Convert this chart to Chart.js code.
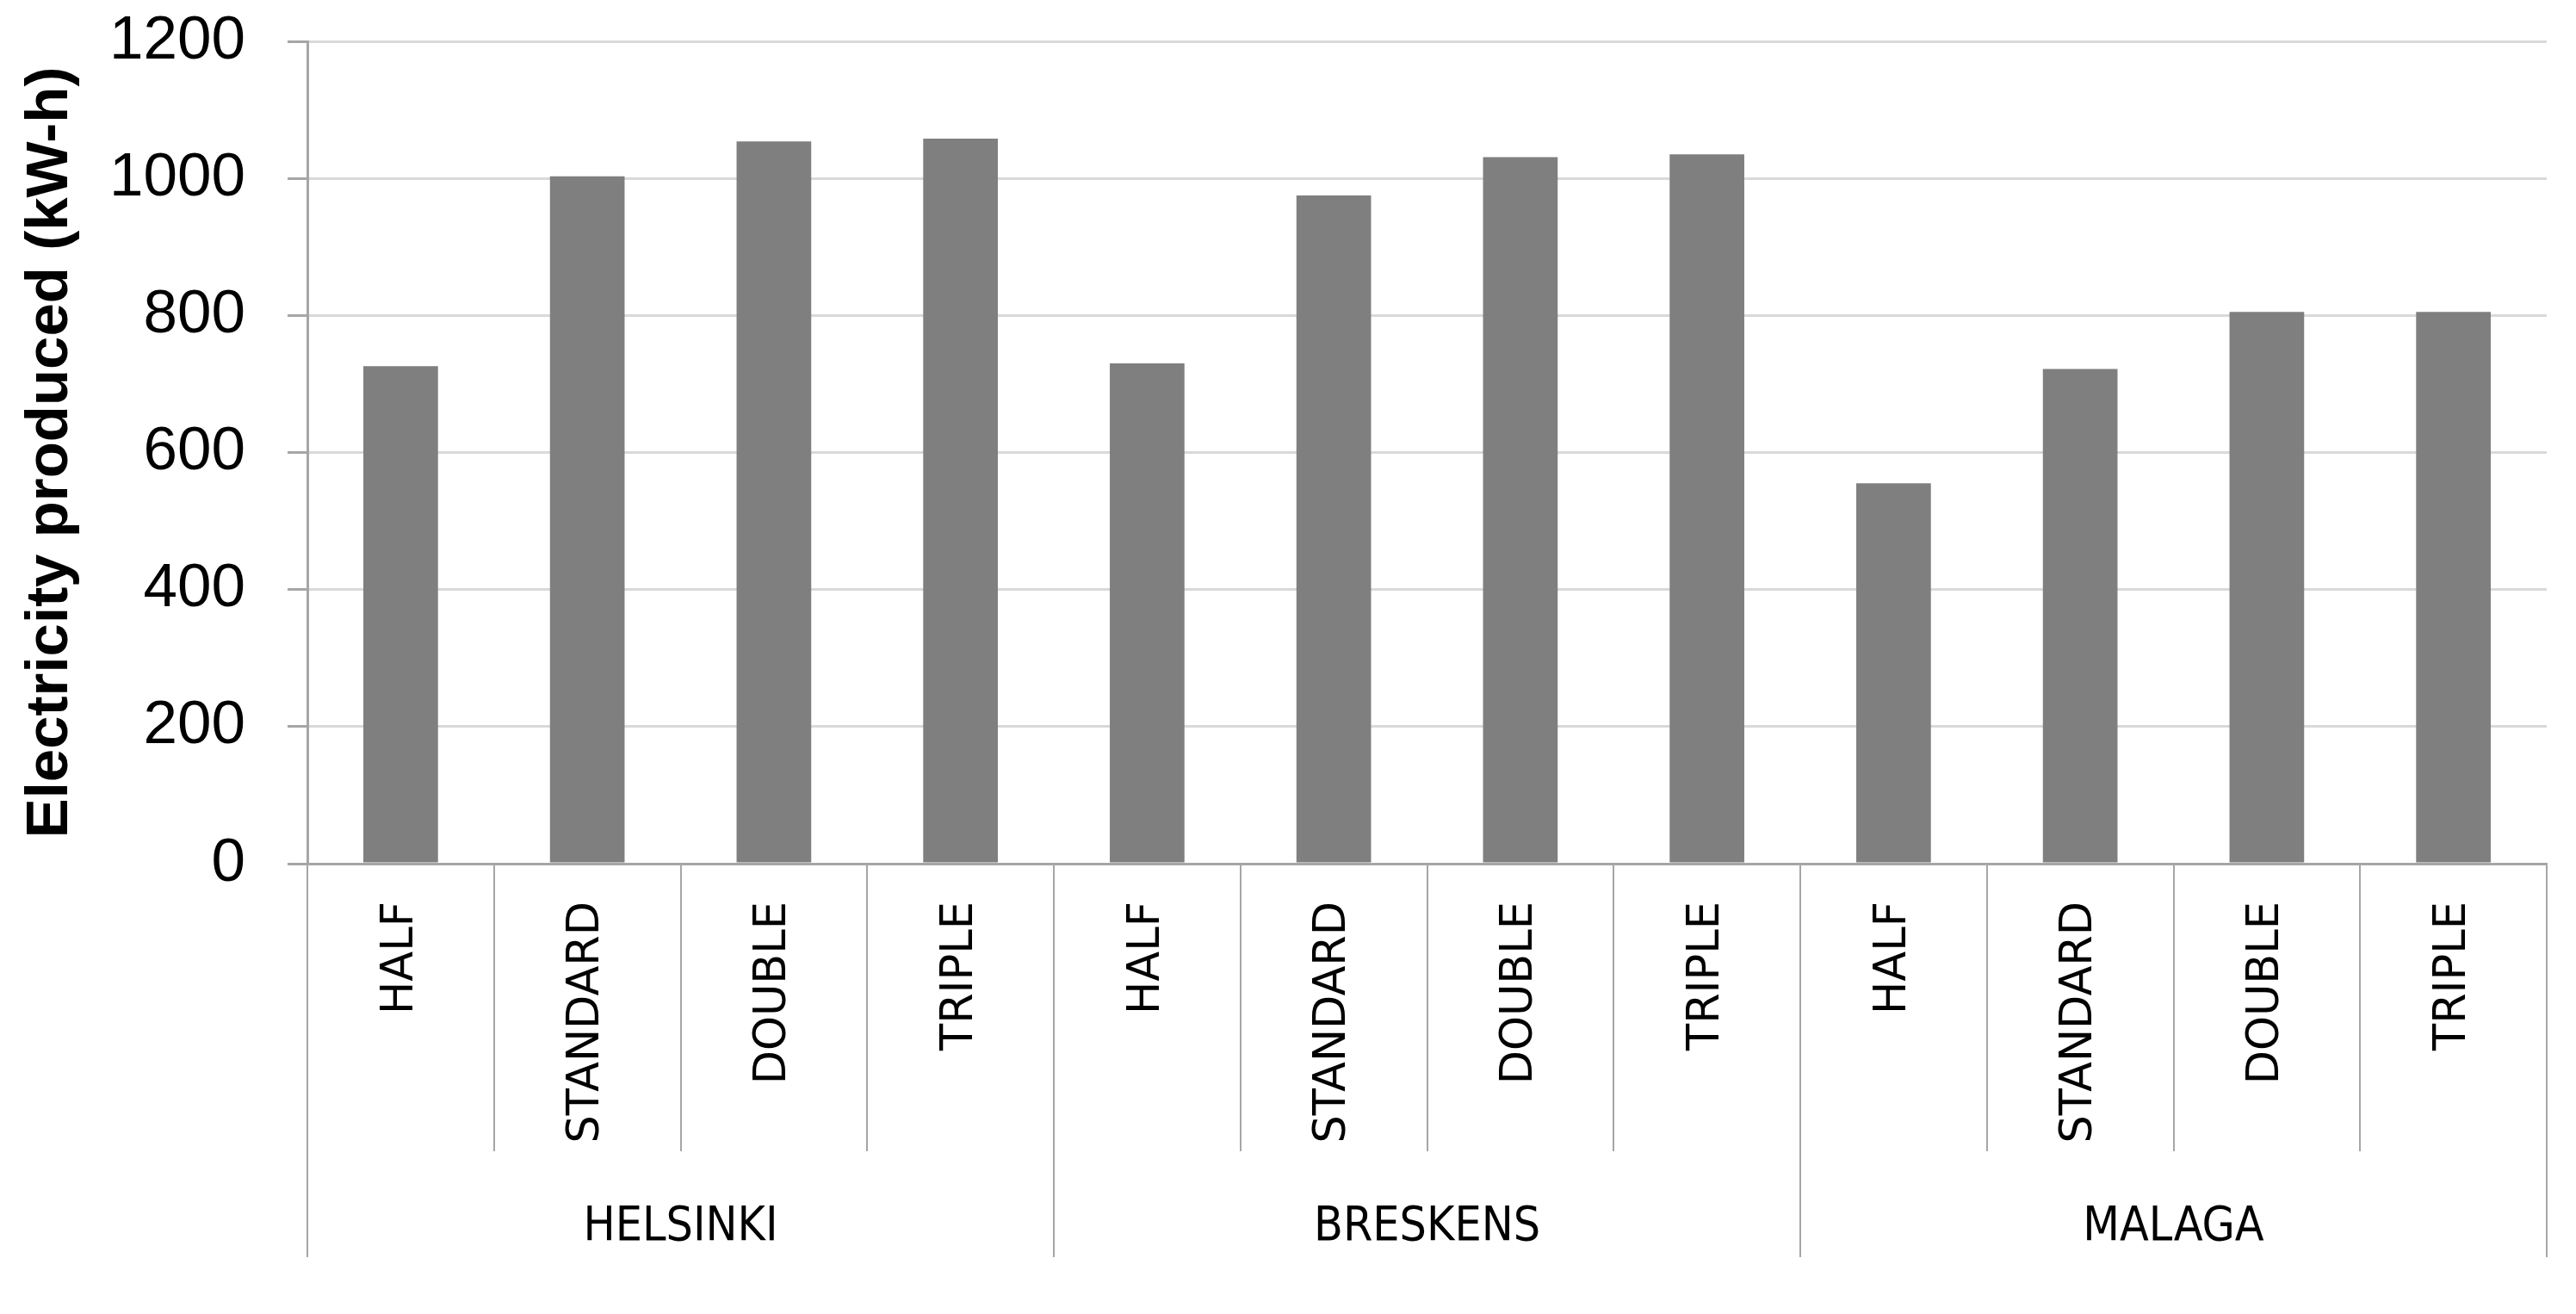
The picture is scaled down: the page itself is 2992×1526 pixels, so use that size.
<!DOCTYPE html>
<html>
<head>
<meta charset="utf-8">
<title>Electricity produced</title>
<script src="https://cdn.jsdelivr.net/npm/chart.js@4.4.1/dist/chart.umd.min.js"></script>
<style>
  html, body { margin: 0; padding: 0; background: #fff; }
  #wrap { width: 2992px; height: 1526px; }
</style>
</head>
<body>
<div id="wrap"><canvas id="chart"></canvas></div>
<script>
const cities = ["HELSINKI", "BRESKENS", "MALAGA"];
const glazing = [
  "HALF", "STANDARD", "DOUBLE", "TRIPLE",
  "HALF", "STANDARD", "DOUBLE", "TRIPLE",
  "HALF", "STANDARD", "DOUBLE", "TRIPLE"
];
const electricity = [726, 1003, 1054, 1058, 730, 975, 1031, 1035, 555, 722, 805, 805];
const yMin = 0;
const yMax = 1200;
const yStep = 200;

const axisGrey = "#a6a6a6";
const gridGrey = "#d9d9d9";
const barGrey = "#7f7f7f";

new Chart(document.getElementById("chart"), {
  type: "bar",
  data: {
    labels: glazing,
    datasets: [{
      label: "Electricity produced (kW-h)",
      data: electricity,
      backgroundColor: barGrey,
      borderWidth: 0,
      barPercentage: 0.4,
      categoryPercentage: 1
    }]
  },
  options: {
    responsive: true,
    maintainAspectRatio: false,
    animation: false,
    layout: {
      padding: { top: 0, right: 34, bottom: 66, left: 0 }
    },
    plugins: {
      legend: { display: false },
      tooltip: { enabled: false }
    },
    scales: {
      x: {
        position: "bottom",
        weight: 0,
        offset: true,
        grid: {
          offset: true,
          drawOnChartArea: false,
          tickLength: 334,
          color: axisGrey,
          lineWidth: 2
        },
        border: { color: axisGrey, width: 3 },
        ticks: {
          minRotation: 90,
          maxRotation: 90,
          autoSkip: false,
          padding: -290,
          color: "#000",
          font: { family: "DejaVu Sans", size: 51 }
        },
        afterFit(scale) {
          scale.height = 334;
        }
      },
      x2: {
        type: "category",
        labels: cities,
        position: "bottom",
        weight: 1,
        offset: true,
        grid: {
          offset: true,
          drawOnChartArea: false,
          tickLength: 123,
          color: axisGrey,
          lineWidth: 2
        },
        border: { display: false },
        ticks: {
          padding: -67,
          color: "#000",
          font: { family: "DejaVu Sans Condensed", size: 55 }
        },
        afterFit(scale) {
          scale.height = 123;
        }
      },
      y: {
        min: yMin,
        max: yMax,
        ticks: {
          stepSize: yStep,
          padding: 49,
          color: "#000",
          font: { family: "Liberation Sans", size: 71 },
          callback: (value) => String(value)
        },
        grid: {
          color: gridGrey,
          lineWidth: 3,
          tickLength: 23,
          tickColor: axisGrey
        },
        border: { color: axisGrey, width: 3 },
        title: {
          display: true,
          text: "Electricity produced (kW-h)",
          color: "#000",
          font: { family: "Liberation Sans", size: 69, weight: "bold" },
          padding: { top: 18, bottom: 0 }
        },
        afterFit(scale) {
          scale.width = 357;
          scale.paddingTop = 48;
        }
      }
    }
  }
});
</script>
</body>
</html>
